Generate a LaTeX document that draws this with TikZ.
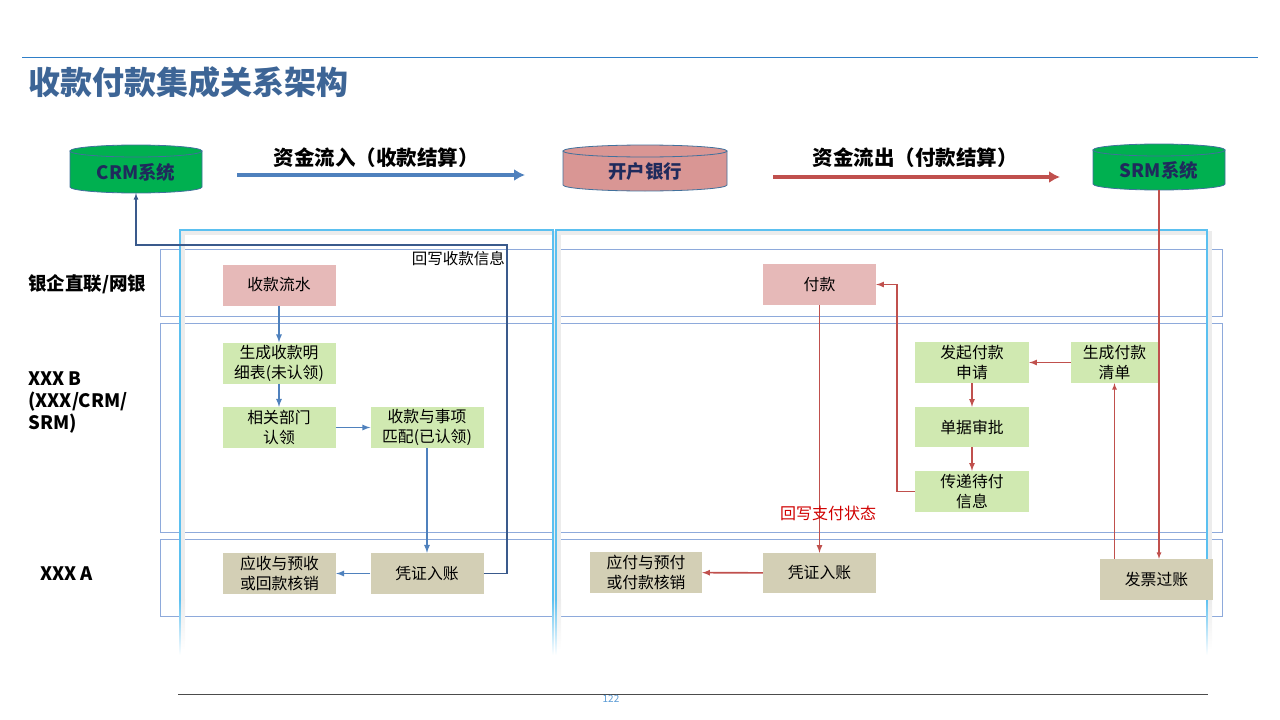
\documentclass[tikz,border=0pt]{standalone}
\usepackage{fontspec}
\setmainfont{Noto Sans CJK SC}
\usepackage{xcolor}
\usetikzlibrary{arrows.meta, positioning}

\definecolor{titleblue}{HTML}{3D6596}
\definecolor{topline}{HTML}{2F7FC8}
\definecolor{lanec}{HTML}{8EAADB}
\definecolor{framec}{HTML}{5BC0F0}
\definecolor{cylgreen}{HTML}{00B050}
\definecolor{cylpink}{HTML}{D99694}
\definecolor{cylborder}{HTML}{41719C}
\definecolor{pinkfill}{HTML}{E6B9B8}
\definecolor{greenfill}{HTML}{D0E9B1}
\definecolor{tanfill}{HTML}{D3CFB5}
\definecolor{flowblue}{HTML}{4F81BD}
\definecolor{flowred}{HTML}{C0504D}
\definecolor{backblue}{HTML}{3A5A8C}
\definecolor{navytext}{HTML}{1F2A5C}
\definecolor{notered}{HTML}{D00000}
\definecolor{pagenum}{HTML}{5B9BD5}

\begin{document}
\begin{tikzpicture}[
    x=1pt, y=-1pt, >=latex,
    font=\fontsize{15.8}{20}\selectfont,
    box/.style={inner sep=0pt, align=center, minimum width=113pt, minimum height=41pt},
    boxpink/.style={box, fill=pinkfill},
    boxgreen/.style={box, fill=greenfill},
    boxtan/.style={box, fill=tanfill},
    cyltext/.style={inner sep=0pt, minimum width=132pt,
        font=\fontsize{18.5}{20}\bfseries, text=navytext},
    cylbody/.style={draw=cylborder, line width=0.8pt},
    lane/.style={draw=lanec, line width=0.9pt},
    lanelabel/.style={anchor=west, align=left, inner sep=0pt,
        font=\fontsize{18.5}{22}\bfseries},
    flowb/.style={->, draw=flowblue, line width=1.7pt},
    flowr/.style={->, draw=flowred, line width=1.6pt}
]

    \useasboundingbox (0,0) rectangle (1280,720);

    % 1. Tiêu đề và đường kẻ
    \draw[topline, line width=1pt] (22,57) -- (1258,57);
    \node[anchor=west, inner sep=0pt, text=titleblue,
        font=\fontsize{32}{36}\bfseries] (title) at (28,82) {收款付款集成关系架构};
    \draw[gray!60!black, line width=0.8pt] (178,694) -- (1208,694);
    \node[text=pagenum, font=\fontsize{10}{11}\selectfont] (page) at (611,699) {122};

    % 2. Các làn (lane)
    \draw[lane] (160,249) rectangle (1222,316);
    \draw[lane] (160,323) rectangle (1222,532);
    \draw[lane] (160,539) rectangle (1222,616);

    \node[lanelabel] (l1) at (28,284) {银企直联/网银};
    \node[lanelabel] (l2) at (28,403) {XXX B\\(XXX/CRM/\\SRM)};
    \node[lanelabel] (l3) at (40,574) {XXX A};

    % 3. Khung xanh nhạt (mờ dần ở dưới)
    \draw[gray!15, line width=4pt]
        (183,600) -- (183,233) -- (556,233) -- (556,600);
    \draw[gray!15, line width=4pt]
        (559,600) -- (559,233) -- (1210,233) -- (1210,600);
    \foreach \sx in {183, 556, 559, 1210}
        \shade[top color=gray!15, bottom color=white]
            (\sx-2,599) rectangle (\sx+2,650);
    \draw[framec, line width=1.6pt]
        (180,600) -- (180,230) -- (553,230) -- (553,600);
    \draw[framec, line width=1.6pt]
        (556,600) -- (556,230) -- (1207,230) -- (1207,600);
    \foreach \fx in {180, 553, 556, 1207}
        \shade[top color=framec, bottom color=white]
            (\fx-0.8,599) rectangle (\fx+0.8,655);

    % 4. Hệ thống (hình trụ)
    \foreach \cx/\cy/\rx/\bot/\cfill in
        {136/151/66/187/cylgreen, 645/151/82/185/cylpink, 1159/150/66/184/cylgreen}
    {
        \draw[cylbody, fill=\cfill]
            (\cx-\rx,\cy) -- (\cx-\rx,\bot)
            arc[start angle=180, end angle=0, x radius=\rx, y radius=6]
            -- (\cx+\rx,\cy) -- cycle;
        \draw[cylbody, fill=\cfill]
            (\cx,\cy) ellipse [x radius=\rx, y radius=6];
    }
    \node[cyltext, minimum height=42pt] (crm) at (136,172) {CRM系统};
    \node[cyltext, minimum width=164pt, minimum height=40pt] (bank) at (645,171) {开户银行};
    \node[cyltext, minimum height=40pt] (srm) at (1159,170) {SRM系统};

    % 5. Mũi tên dòng tiền
    \coordinate (inS) at (237,175);
    \coordinate (inE) at (525,175);
    \coordinate (outS) at (773,177);
    \coordinate (outE) at (1060,177);
    \draw[-{Latex[length=11pt,width=12pt]}, flowblue, line width=4pt] (inS) -- (inE);
    \draw[-{Latex[length=11pt,width=12pt]}, flowred, line width=4pt] (outS) -- (outE);
    \node[font=\fontsize{20.5}{24}\bfseries] (inlbl) at (376,158) {资金流入（收款结算）};
    \node[font=\fontsize{20.5}{24}\bfseries] (outlbl) at (915,158) {资金流出（付款结算）};

    % 6. Các bước thu tiền
    \node[boxpink] (skls) at (279,285) {收款流水};
    \node[boxgreen] (scmx) at (279,363) {生成收款明\\细表(未认领)};
    \node[boxgreen] (xgbm) at (279,427.5) {相关部门\\认领};
    \node[boxgreen] (skpp) at (427,427.5) {收款与事项\\匹配(已认领)};
    \node[boxtan] (pzL) at (427,573.5) {凭证入账};
    \node[boxtan] (ysL) at (279.5,573.5) {应收与预收\\或回款核销};

    \draw[flowb] (skls) -- (scmx);
    \draw[flowb] (scmx) -- (xgbm);
    \draw[flowb] (xgbm) -- (skpp);
    \draw[flowb] (skpp) -- (pzL);
    \draw[flowb] (pzL) -- (ysL);

    \coordinate (backC) at (507,245);
    \draw[->, backblue, line width=1.2pt] (pzL.east) -| (backC) -| (crm.south);
    \node[anchor=east, inner sep=0pt, font=\fontsize{15.5}{16}\selectfont] (backlbl)
        at (505,259) {回写收款信息};

    % 7. Các bước trả tiền
    \node[boxpink] (fk) at (819.5,284.5) {付款};
    \node[boxgreen, minimum width=114pt] (fqsq) at (972,362.5) {发起付款\\申请};
    \node[boxgreen, minimum width=87pt] (scqd) at (1114.5,362.5) {生成付款\\清单};
    \node[boxgreen, minimum width=114pt, minimum height=40pt] (djsp) at (972,427) {单据审批};
    \node[boxgreen, minimum width=114pt] (cdxx) at (972,491.5) {传递待付\\信息};
    \node[boxtan, minimum height=40pt] (pzR) at (819.5,573) {凭证入账};
    \node[boxtan, minimum width=112pt] (yfR) at (646,572.5) {应付与预付\\或付款核销};
    \node[boxtan] (fpgz) at (1156.5,579.5) {发票过账};

    \draw[flowr] (fk) -- (pzR);
    \draw[flowr] (pzR) -- (yfR);
    \draw[flowr] (scqd) -- (fqsq);
    \draw[flowr] (fqsq) -- (djsp);
    \draw[flowr] (djsp) -- (cdxx);
    \draw[flowr] (cdxx.west) -- ++(-18,0) |- (fk.east);
    \draw[flowr, line width=1.2pt] (srm.south) -- (srm.south |- fpgz.north);
    \draw[flowr, line width=1.2pt] (scqd.south |- fpgz.north) -- (scqd.south);

    \node[text=notered, font=\fontsize{16}{18}\selectfont] (paylbl)
        at (828,513) {回写支付状态};

\end{tikzpicture}
\end{document}
